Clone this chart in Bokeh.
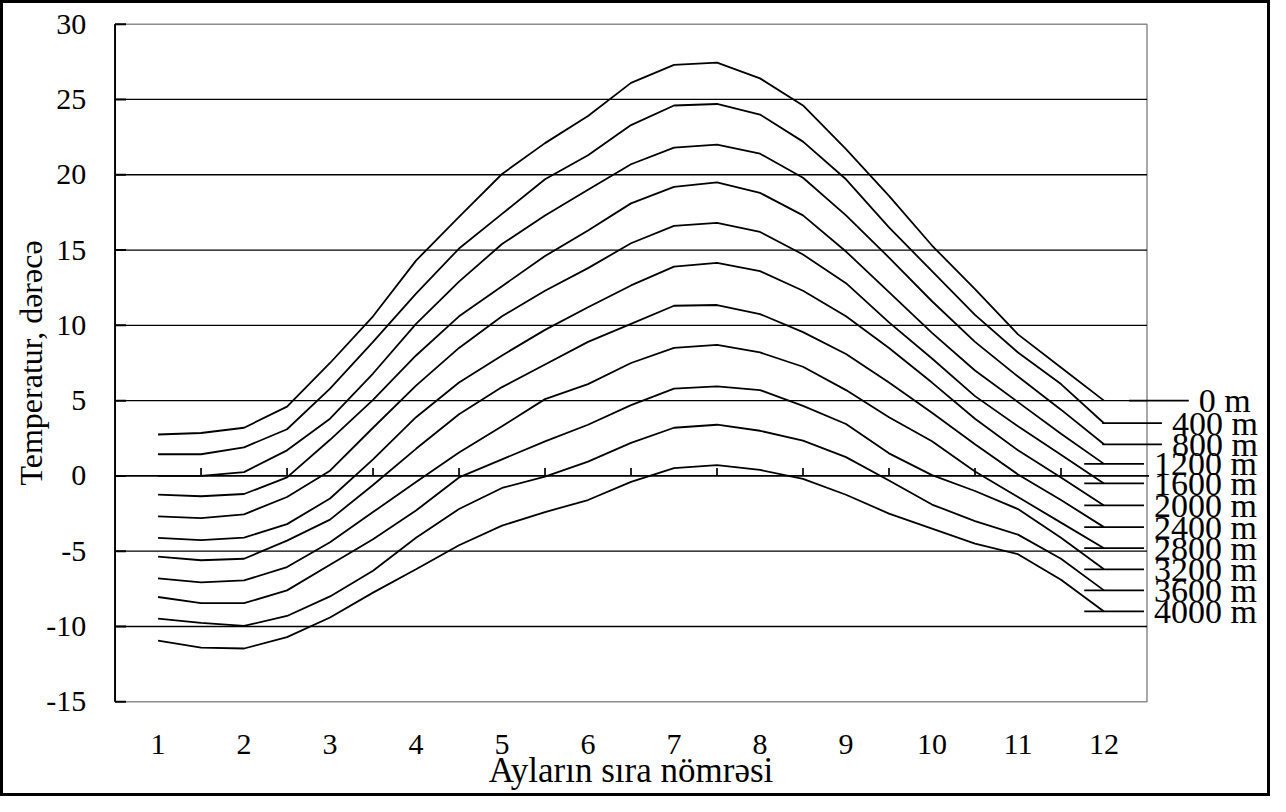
import math
from bokeh.plotting import figure
from bokeh.models import Range1d
from bokeh.embed import file_html
from bokeh.resources import INLINE
from bokeh.core.properties import value

# ---------------- data ----------------
months = [1, 1.5, 2, 2.5, 3, 3.5, 4, 4.5, 5, 5.5, 6, 6.5, 7, 7.5, 8, 8.5, 9, 9.5, 10, 10.5, 11, 11.5, 12]

t_0000 = [2.75, 2.85, 3.2, 4.6, 7.5, 10.6, 14.3, 17.2, 20.05, 22.1, 23.9, 26.1, 27.3, 27.45, 26.4, 24.6, 21.7, 18.6, 15.3, 12.4, 9.4, 7.2, 5.0]
t_0400 = [1.44, 1.44, 1.9, 3.1, 5.8, 8.9, 12.1, 15.1, 17.4, 19.7, 21.3, 23.3, 24.6, 24.7, 24.0, 22.2, 19.7, 16.5, 13.6, 10.7, 8.2, 6.1, 3.5]
t_0800 = [0.0, 0.0, 0.25, 1.7, 3.8, 6.8, 10.1, 12.9, 15.4, 17.3, 19.0, 20.7, 21.8, 22.0, 21.4, 19.8, 17.3, 14.5, 11.6, 8.9, 6.6, 4.4, 2.1]
t_1200 = [-1.24, -1.35, -1.2, -0.1, 2.4, 5.05, 8.0, 10.6, 12.6, 14.6, 16.3, 18.1, 19.2, 19.5, 18.8, 17.3, 14.9, 12.2, 9.5, 7.0, 4.9, 2.8, 0.8]
t_1600 = [-2.68, -2.8, -2.55, -1.4, 0.35, 3.2, 6.0, 8.5, 10.6, 12.3, 13.8, 15.45, 16.6, 16.8, 16.2, 14.7, 12.8, 10.2, 7.8, 5.3, 3.3, 1.4, -0.5]
t_2000 = [-4.12, -4.26, -4.1, -3.2, -1.5, 1.1, 3.9, 6.2, 8.0, 9.7, 11.2, 12.65, 13.9, 14.15, 13.6, 12.3, 10.6, 8.5, 6.2, 3.8, 1.7, -0.1, -1.96]
t_2400 = [-5.36, -5.6, -5.5, -4.3, -2.9, -0.6, 1.8, 4.1, 5.9, 7.4, 8.9, 10.1, 11.3, 11.35, 10.75, 9.55, 8.1, 6.2, 4.2, 2.1, 0.1, -1.6, -3.4]
t_2800 = [-6.8, -7.07, -6.94, -6.05, -4.4, -2.4, -0.4, 1.55, 3.3, 5.1, 6.1, 7.5, 8.5, 8.7, 8.2, 7.25, 5.7, 3.9, 2.3, 0.3, -1.4, -3.1, -4.8]
t_3200 = [-8.04, -8.45, -8.45, -7.6, -5.9, -4.2, -2.3, -0.1, 1.1, 2.3, 3.4, 4.7, 5.8, 5.95, 5.7, 4.65, 3.45, 1.5, 0.05, -1.0, -2.2, -4.1, -6.2]
t_3600 = [-9.48, -9.76, -9.96, -9.3, -8.0, -6.3, -4.1, -2.2, -0.8, -0.05, 0.95, 2.2, 3.2, 3.4, 3.0, 2.35, 1.25, -0.3, -1.9, -3.0, -3.9, -5.5, -7.6]
t_4000 = [-10.94, -11.4, -11.46, -10.7, -9.4, -7.75, -6.2, -4.6, -3.3, -2.4, -1.6, -0.4, 0.52, 0.72, 0.4, -0.2, -1.25, -2.5, -3.5, -4.5, -5.2, -6.9, -9.0]

series_names = ["0 m", "400 m", "800 m", "1200 m", "1600 m", "2000 m",
                "2400 m", "2800 m", "3200 m", "3600 m", "4000 m"]
series_values = [t_0000, t_0400, t_0800, t_1200, t_1600, t_2000,
                 t_2400, t_2800, t_3200, t_3600, t_4000]

x_categories = ["1", "2", "3", "4", "5", "6", "7", "8", "9", "10", "11", "12"]
y_ticks = [-15, -10, -5, 0, 5, 10, 15, 20, 25, 30]
x_title = "Ayların sıra nömrəsi"
y_title = "Temperatur, dərəcə"

# ---------------- layout ----------------
W, H = 1270, 796
# reference geometry (pixels): outer chart box and inner plot area
BOX_L, BOX_T, BOX_R, BOX_B = 7, 2, 1282, 809
AREA_L, AREA_R, AREA_T, AREA_B = 122, 1158, 26, 713
XMIN, XMAX = 0.5, 12.5
YMIN, YMAX = -15, 30
SX = (AREA_R - AREA_L) / (XMAX - XMIN)
SY = (AREA_B - AREA_T) / (YMAX - YMIN)


def px2x(px):
    return XMIN + (px - AREA_L) / SX


def py2y(py):
    return YMAX - (py - AREA_T) / SY


# leader line start (reference px) per label; leaders 60 px long, label after a gap
leader_start_px = [1140, 1113, 1113, 1095, 1095, 1095, 1095, 1095, 1095, 1095, 1095]
LEADER_LEN = 60
LABEL_GAP = 10

FONT = value("Liberation Serif")
BLACK = "#000000"
GRAY = "#8c8c8c"

p = figure(width=W, height=H,
           x_range=Range1d(px2x(BOX_L), px2x(BOX_R)),
           y_range=Range1d(py2y(BOX_B), py2y(BOX_T)),
           x_axis_location=None, y_axis_location=None, title=None,
           min_border=0, toolbar_location=None, output_backend="svg")
p.xgrid.visible = False
p.ygrid.visible = False
p.background_fill_color = "white"
p.border_fill_color = "white"
p.outline_line_color = BLACK
p.outline_line_width = 5

# plot-area border (gray)
p.quad(left=[XMIN], right=[XMAX], bottom=[YMIN], top=[YMAX],
       fill_color=None, line_color=GRAY, line_width=1.5)

# horizontal gridlines
grid_vals = [v for v in y_ticks if v not in (YMIN, YMAX, 0)]
p.segment(x0=[XMIN] * len(grid_vals), x1=[XMAX] * len(grid_vals),
          y0=grid_vals, y1=grid_vals, line_color=BLACK, line_width=1.3)

# category axis crossing at 0
p.segment(x0=[XMIN], x1=[XMAX + 2 / SX], y0=[0], y1=[0], line_color=BLACK, line_width=1.7)
bounds = [i + 0.5 for i in range(1, len(x_categories))]
p.segment(x0=bounds, x1=bounds, y0=[0] * len(bounds), y1=[8 / SY] * len(bounds),
          line_color=BLACK, line_width=1.7)

# value axis
p.segment(x0=[XMIN], x1=[XMIN], y0=[YMIN], y1=[YMAX], line_color=BLACK, line_width=1.9)
p.segment(x0=[XMIN] * len(y_ticks), x1=[XMIN + 11 / SX] * len(y_ticks),
          y0=y_ticks, y1=y_ticks, line_color=BLACK, line_width=2)

# tick labels
p.text(x=[px2x(93)] * len(y_ticks), y=y_ticks, text=[str(v) for v in y_ticks],
       text_font=FONT, text_font_size="30px", text_color=BLACK,
       text_align="right", text_baseline="middle")
xc = list(range(1, len(x_categories) + 1))
p.text(x=xc, y=[py2y(756)] * len(xc), text=x_categories,
       text_font=FONT, text_font_size="30px", text_color=BLACK,
       text_align="center", text_baseline="middle")

# axis titles (centred on the plot area)
p.text(x=[(XMIN + XMAX) / 2], y=[py2y(783)], text=[x_title],
       text_font=FONT, text_font_size="35px", text_color=BLACK,
       text_align="center", text_baseline="middle")
p.text(x=[px2x(38)], y=[(YMIN + YMAX) / 2], text=[y_title], angle=math.pi / 2,
       text_font=FONT, text_font_size="32px", text_color=BLACK,
       text_align="center", text_baseline="middle")

# series
for vals in series_values:
    p.line(months, vals, line_color=BLACK, line_width=1.8)

# leaders and series labels
ends = [vals[-1] for vals in series_values]
lx0 = [px2x(v) for v in leader_start_px]
lx1 = [px2x(v + LEADER_LEN) for v in leader_start_px]
p.segment(x0=lx0, x1=lx1, y0=ends, y1=ends, line_color=BLACK, line_width=1.8)
p.text(x=[px2x(v + LEADER_LEN + LABEL_GAP) for v in leader_start_px], y=ends,
       text=series_names, text_font=FONT, text_font_size="34px", text_color=BLACK,
       text_align="left", text_baseline="middle")

open("out.html", "w").write(file_html(p, INLINE))
